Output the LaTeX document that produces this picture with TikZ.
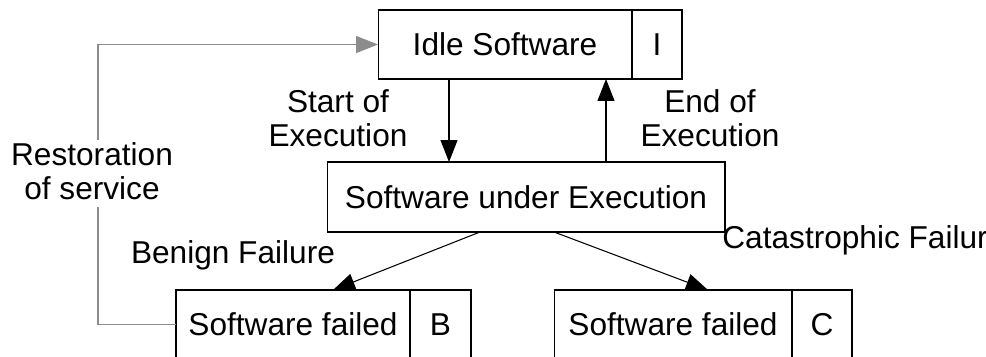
\documentclass[tikz,border=0pt]{standalone}
\usepackage{fontspec}
\setmainfont{Liberation Sans}
\usetikzlibrary{positioning, arrows.meta}
\definecolor{backgray}{HTML}{8C8C8C}

\begin{document}
\begin{tikzpicture}[x=0.02cm, y=-0.02cm, >={Triangle[length=0.44cm, width=0.34cm]}, line width=0.6pt,
    box/.style={draw, minimum height=1.38cm, inner sep=0pt, outer sep=0pt, font=\fontsize{18}{19}\selectfont},
    lbl/.style={align=center, font=\fontsize{18}{19.5}\selectfont}]
      \useasboundingbox (0,0) rectangle (986,356);
      % states
      \node[box, minimum width=5.08cm] (idle) at (505,44.5) {Idle Software};
      \node[box, minimum width=1cm, right=0pt of idle] (idleI) {I};
      \node[box, minimum width=7.96cm, minimum height=1.4cm] (exec) at (526,197) {Software under Execution};
      \node[box, minimum width=4.68cm] (benign) at (293,324.5) {Software failed};
      \node[box, minimum width=1.22cm, right=0pt of benign] (benignB) {B};
      \node[box, minimum width=4.76cm] (catas) at (673,324.5) {Software failed};
      \node[box, minimum width=1.2cm, right=0pt of catas] (catasC) {C};
      % labels
      \node[lbl] (start) at (338,118) {Start of\\Execution};
      \node[lbl] (end) at (710,118) {End of\\Execution};
      \node[lbl] (benignlbl) at (233,255) {Benign Failure};
      \node[lbl, anchor=west] (cataslbl) at (716,240) {Catastrophic Failur};
      \node[lbl] (restore) at (92,171) {Restoration\\of service};
      \coordinate (rtop) at (98,140);
      \coordinate (rbot) at (98,207);
      % transitions
      \draw[->] ([xshift=-1.12cm]idle.south) -- ([xshift=-1.12cm]idle.south |- exec.north);
      \draw[->] ([xshift=1.6cm]exec.north) -- ([xshift=1.6cm]exec.north |- idle.south);
      \draw[->] ([xshift=-0.92cm]exec.south) -- ([xshift=0.8cm]benign.north);
      \draw[->] ([xshift=0.56cm]exec.south) -- ([xshift=0.7cm]catas.north);
      \draw[backgray] (benign.west) -| (rbot);
      \draw[backgray, ->] (rtop) |- (idle.west);
\end{tikzpicture}
\end{document}
